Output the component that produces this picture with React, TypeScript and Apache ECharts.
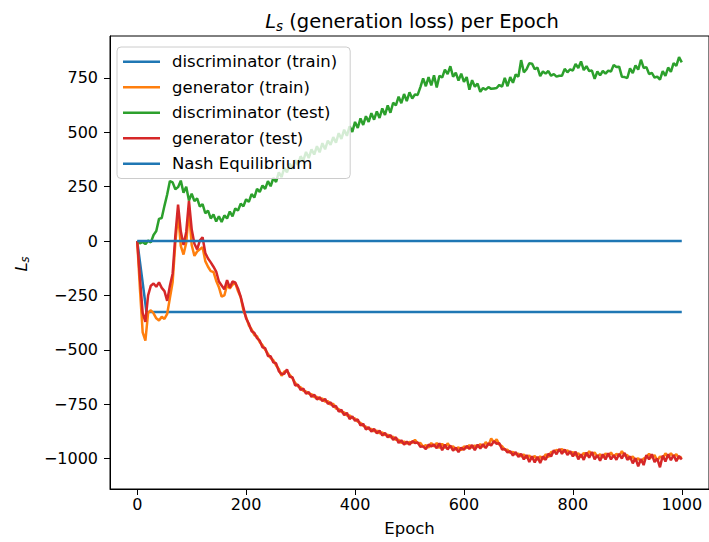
import React, { useEffect, useRef } from "react";
import * as echarts from "echarts";

// Loss values are logged every STEP epochs, from epoch 0 to epoch 1000.
const STEP = 5;

const discriminatorTest = [
  0, -10, -4, -14, 2, -6, 28, 46, 102, 106, 162, 214, 276, 270, 238, 248, 278, 222, 250, 186,
  218, 184, 196, 158, 170, 128, 140, 104, 122, 90, 114, 88, 118, 104, 136, 114, 150, 140, 172, 160,
  192, 180, 216, 200, 240, 226, 256, 240, 276, 252, 290, 272, 316, 294, 336, 316, 356, 332, 372, 350,
  390, 370, 410, 382, 422, 398, 436, 408, 450, 422, 462, 442, 478, 452, 496, 470, 512, 484, 528, 502,
  548, 520, 564, 534, 574, 548, 588, 558, 596, 566, 610, 580, 624, 590, 636, 624, 664, 634, 676, 644,
  684, 656, 674, 672, 708, 748, 712, 754, 716, 762, 706, 760, 752, 788, 768, 804, 756, 774, 738, 770,
  732, 754, 696, 740, 710, 724, 686, 704, 696, 708, 700, 702, 704, 718, 710, 750, 712, 754, 728, 766,
  756, 832, 776, 790, 818, 816, 790, 798, 758, 780, 770, 782, 760, 768, 756, 760, 760, 792, 776, 790,
  784, 814, 796, 826, 786, 804, 782, 784, 746, 780, 762, 782, 770, 784, 780, 810, 800, 802, 756, 754,
  750, 794, 772, 808, 788, 834, 796, 800, 768, 774, 752, 756, 742, 782, 760, 798, 778, 818, 806, 846,
  822,
];

const generatorTest = [
  0, -170, -330, -372, -250, -205, -195, -210, -190, -215, -230, -275, -205, -150, 25, 168, 45, -18, 42, 185,
  55, -12, -38, 2, 18, -55, -80, -98, -118, -140, -186, -204, -222, -180, -214, -186, -190, -218, -256, -306,
  -356, -380, -414, -422, -446, -458, -488, -492, -528, -530, -558, -562, -598, -612, -610, -590, -624, -626, -664, -660,
  -684, -678, -702, -694, -716, -706, -728, -718, -736, -726, -748, -742, -762, -758, -784, -776, -800, -790, -818, -806,
  -826, -820, -848, -840, -866, -856, -876, -864, -884, -872, -894, -882, -902, -892, -914, -902, -928, -916, -936, -922,
  -936, -920, -928, -926, -946, -944, -956, -936, -944, -936, -952, -930, -962, -936, -958, -940, -964, -950, -970, -950,
  -960, -942, -956, -938, -962, -936, -954, -934, -952, -930, -940, -920, -932, -930, -958, -956, -972, -966, -986, -970,
  -992, -978, -1004, -984, -1016, -990, -1018, -992, -1020, -990, -1006, -978, -990, -962, -980, -956, -978, -958, -984, -966,
  -990, -968, -1004, -980, -1006, -972, -996, -970, -1004, -984, -1010, -980, -1004, -976, -1004, -984, -1006, -978, -1000, -974,
  -1006, -990, -1022, -998, -1036, -1002, -1030, -984, -1004, -980, -1016, -1000, -1040, -986, -1014, -980, -1008, -984, -1012, -988,
  -1004,
];

const generatorTrain = [
  0, -220, -420, -458, -330, -318, -332, -355, -365, -348, -358, -335, -262, -190, -8, 128, -22, -62, -8, 142,
  -18, -68, -48, -38, -28, -92, -118, -138, -142, -182, -212, -255, -250, -202, -218, -200, -192, -230, -258, -318,
  -350, -388, -405, -432, -438, -465, -478, -500, -518, -538, -548, -572, -588, -620, -600, -598, -615, -630, -652, -668,
  -672, -688, -692, -702, -704, -718, -716, -728, -724, -738, -736, -752, -748, -770, -772, -786, -788, -802, -802, -814,
  -816, -830, -836, -850, -854, -864, -864, -874, -872, -884, -880, -892, -890, -902, -900, -914, -914, -928, -922, -932,
  -924, -928, -914, -930, -928, -946, -938, -950, -928, -944, -928, -952, -932, -952, -930, -948, -944, -960, -948, -962,
  -944, -952, -938, -950, -940, -948, -934, -946, -924, -940, -908, -926, -912, -936, -944, -960, -960, -974, -970, -980,
  -978, -990, -982, -998, -986, -1002, -988, -1006, -990, -1004, -980, -994, -970, -970, -960, -964, -956, -970, -962, -976,
  -970, -986, -976, -994, -974, -988, -966, -982, -972, -992, -980, -996, -976, -990, -972, -992, -978, -990, -966, -986,
  -984, -1004, -990, -1010, -998, -1016, -1000, -994, -978, -996, -984, -1010, -990, -1000, -976, -994, -976, -992, -980, -1000,
  -992,
];

// Discriminator training loss: drops right away and then holds steady.
const discriminatorTrainEpochs = [0, 17, 1000];
const discriminatorTrainValues = [0, -326, -326];

// Reference level for the Nash equilibrium.
const nashEpochs = [0, 1000];
const nashValues = [0, 0];

const xTicks = [0, 200, 400, 600, 800, 1000];
const yTicks = [-1000, -750, -500, -250, 0, 250, 500, 750];

const seriesNames = [
  "discriminator (train)",
  "generator (train)",
  "discriminator (test)",
  "generator (test)",
  "Nash Equilibrium",
];

const FONT = "'DejaVu Sans', sans-serif";
const BLUE = "#1f77b4";
const ORANGE = "#ff7f0e";
const GREEN = "#2ca02c";
const RED = "#d62728";

const stepped = (vals: number[]) => vals.map((v, i) => [i * STEP, v]);
const paired = (xs: number[], ys: number[]) => xs.map((x, i) => [x, ys[i]]);
const fmtTick = (v: number) => (v < 0 ? "\u2212" + Math.abs(v) : String(v));

function lineSeries(name: string, color: string, data: number[][]) {
  return {
    name,
    type: "line",
    data,
    showSymbol: false,
    symbol: "none",
    silent: true,
    color,
    lineStyle: { color, width: 2.5 },
    emphasis: { disabled: true },
  };
}

export default function App() {
  const ref = useRef<HTMLDivElement>(null);

  useEffect(() => {
    if (!ref.current) return;
    const chart = echarts.init(ref.current, null, { renderer: "svg" });

    const axisCommon = {
      splitLine: { show: false },
      axisLine: { onZero: false, lineStyle: { color: "#000", width: 1 } },
    };

    chart.setOption({
      animation: false,
      backgroundColor: "#fff",
      grid: {
        left: 110,
        top: 36,
        width: 605,
        height: 455,
        show: true,
        borderColor: "#000",
        borderWidth: 1,
      },
      xAxis: {
        type: "value",
        min: -50,
        max: 1050,
        ...axisCommon,
        axisTick: { customValues: xTicks, length: 6, lineStyle: { color: "#000" } },
        axisLabel: {
          customValues: xTicks,
          formatter: fmtTick,
          margin: 7,
          fontFamily: FONT,
          fontSize: 16,
          color: "#000",
        },
        name: "Epoch",
        nameLocation: "middle",
        nameGap: 31,
        nameTextStyle: { fontFamily: FONT, fontSize: 16.5, color: "#000" },
      },
      yAxis: {
        type: "value",
        min: -1140,
        max: 943,
        ...axisCommon,
        axisTick: { customValues: yTicks, length: 6, lineStyle: { color: "#000" } },
        axisLabel: {
          customValues: yTicks,
          formatter: fmtTick,
          margin: 12,
          fontFamily: FONT,
          fontSize: 16,
          color: "#000",
        },
      },
      legend: {
        orient: "vertical",
        left: 117,
        top: 47,
        data: seriesNames,
        icon: "rect",
        itemWidth: 37,
        itemHeight: 2.5,
        itemGap: 0,
        padding: [2, 13, 2, 6],
        selectedMode: false,
        backgroundColor: "rgba(255,255,255,0.8)",
        borderColor: "#cccccc",
        borderWidth: 1,
        borderRadius: 4,
        textStyle: {
          fontFamily: FONT,
          fontSize: 16.5,
          color: "#000",
          lineHeight: 25.5,
          padding: [0, 0, 0, 7],
        },
      },
      graphic: [
        {
          type: "text",
          x: 412,
          y: 21,
          silent: true,
          style: {
            text: "{l|L}{s|s}{t| (generation loss) per Epoch}",
            align: "center",
            verticalAlign: "middle",
            fill: "#000",
            rich: {
              l: { fontFamily: FONT, fontSize: 19.5, fontStyle: "italic", lineHeight: 24, fill: "#000" },
              s: { fontFamily: FONT, fontSize: 13.5, fontStyle: "italic", lineHeight: 14, verticalAlign: "bottom", fill: "#000" },
              t: { fontFamily: FONT, fontSize: 19.5, lineHeight: 24, fill: "#000" },
            },
          },
        },
        {
          type: "text",
          x: 21,
          y: 264,
          rotation: Math.PI / 2,
          silent: true,
          style: {
            text: "{l|L}{s|s}",
            align: "center",
            verticalAlign: "middle",
            fill: "#000",
            rich: {
              l: { fontFamily: FONT, fontSize: 16.5, fontStyle: "italic", lineHeight: 20, fill: "#000" },
              s: { fontFamily: FONT, fontSize: 11.5, fontStyle: "italic", lineHeight: 12, verticalAlign: "bottom", fill: "#000" },
            },
          },
        },
      ],
      series: [
        lineSeries(seriesNames[0], BLUE, paired(discriminatorTrainEpochs, discriminatorTrainValues)),
        lineSeries(seriesNames[1], ORANGE, stepped(generatorTrain)),
        lineSeries(seriesNames[2], GREEN, stepped(discriminatorTest)),
        lineSeries(seriesNames[3], RED, stepped(generatorTest)),
        lineSeries(seriesNames[4], BLUE, paired(nashEpochs, nashValues)),
      ],
    });

    return () => chart.dispose();
  }, []);

  return (
    <div
      ref={ref}
      style={{ position: "absolute", left: 0, top: 0, width: 709, height: 542 }}
    />
  );
}
